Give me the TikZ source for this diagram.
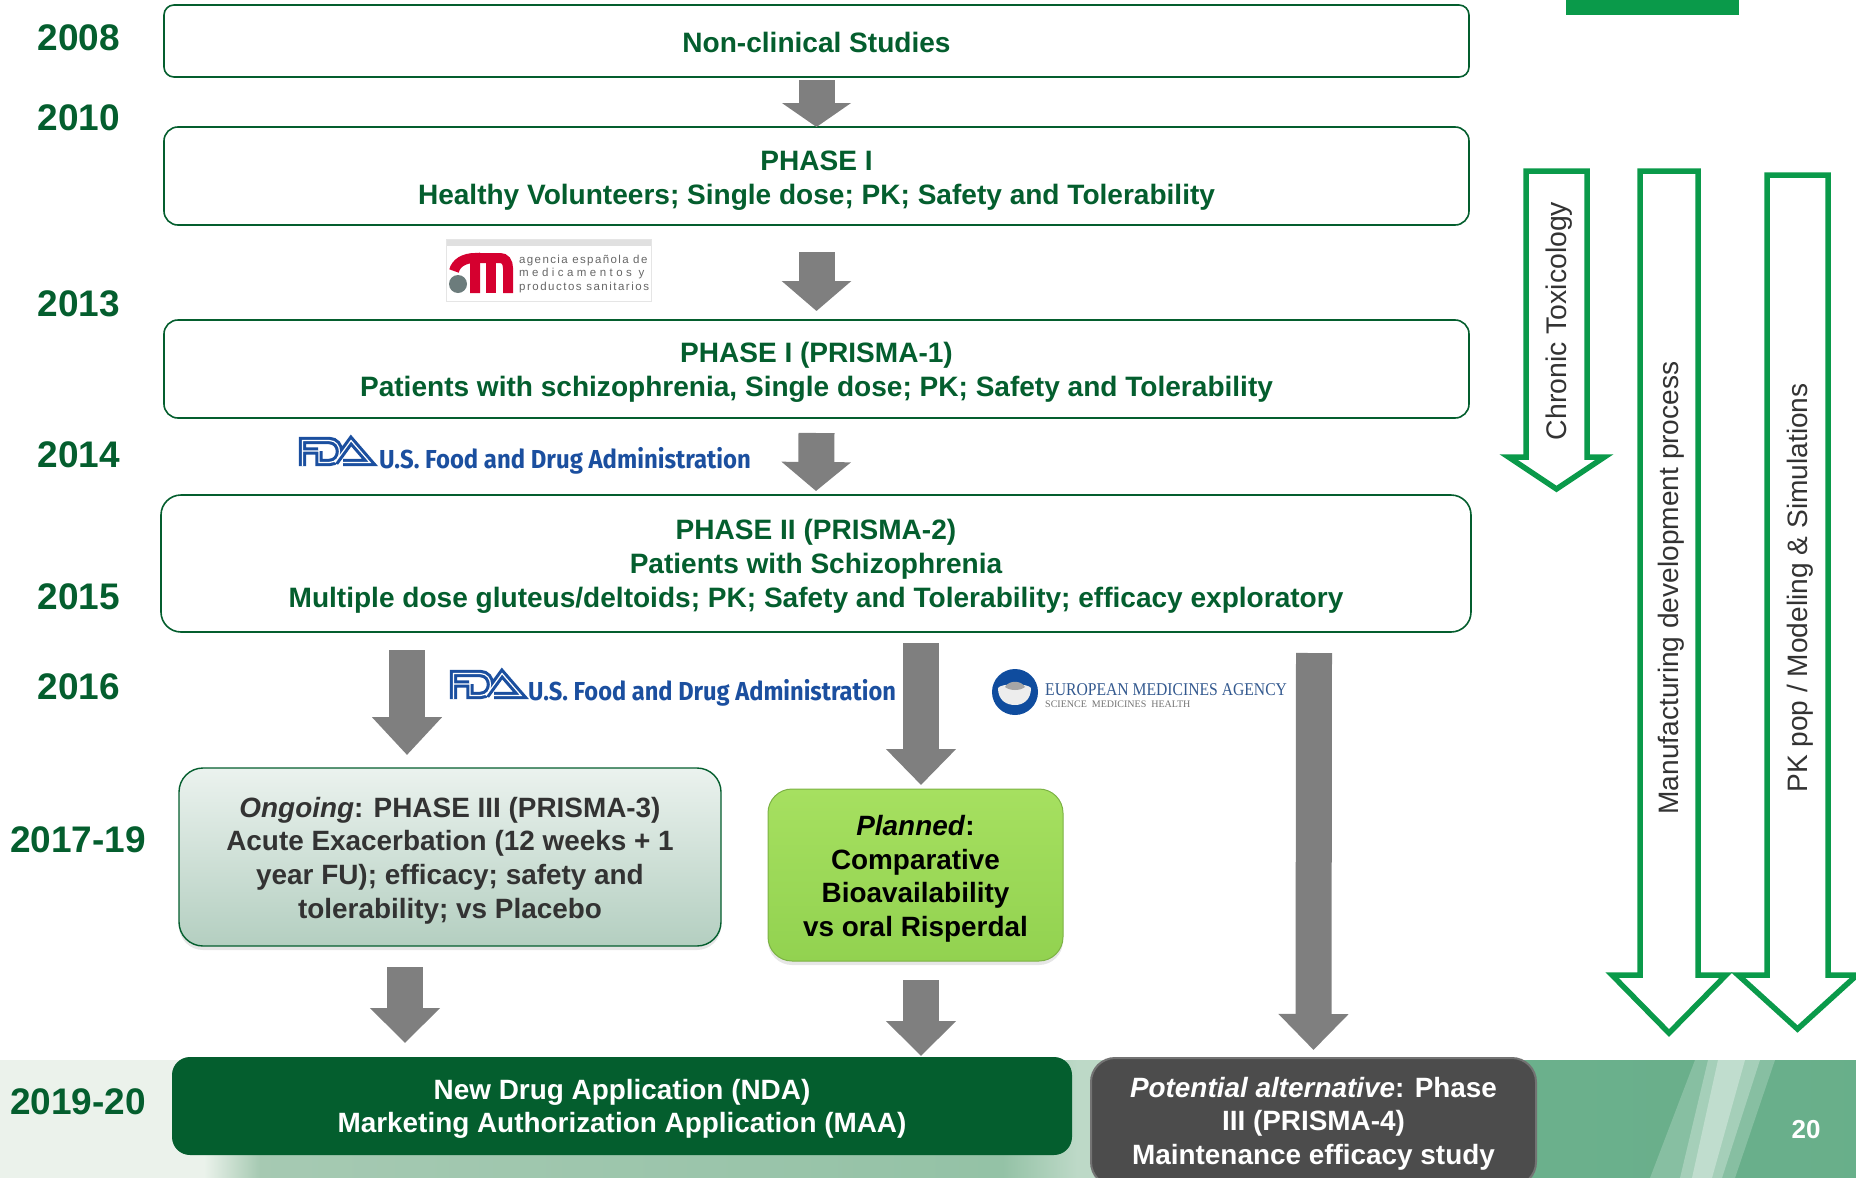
\documentclass[tikz,border=0pt]{standalone}
\usepackage{fontspec}
\setmainfont{Liberation Sans}
\newfontfamily\fdafont{Fira Sans}
\newfontfamily\emafont{Liberation Serif}
\usetikzlibrary{arrows.meta,shadows}
\definecolor{darkgreen}{HTML}{045E2E}
\definecolor{ruleblue}{HTML}{1B4F9F}
\definecolor{hollowgreen}{HTML}{0A9A4A}
\definecolor{arrowgray}{HTML}{7F7F7F}
\definecolor{limetop}{HTML}{A6E060}
\definecolor{limebottom}{HTML}{92D250}
\definecolor{amred}{HTML}{D5002F}
\definecolor{emablue}{HTML}{0F4C9E}
\definecolor{ematext}{HTML}{33598F}
\newcommand{\firstline}[1]{\rule{0pt}{#1pt}}
\pgfdeclarehorizontalshading{bandshade}{100bp}{
	rgb(0bp)=(.92,.95,.92);
	rgb(30.5bp)=(.92,.95,.92);
	rgb(32bp)=(.65,.79,.70);
	rgb(52bp)=(.58,.76,.65);
	rgb(54bp)=(.74,.85,.78);
	rgb(55.5bp)=(.74,.85,.78);
	rgb(58bp)=(.50,.72,.58);
	rgb(66bp)=(.42,.69,.55);
	rgb(100bp)=(.38,.67,.52)
}
\tikzset{fdalogo/.pic={
	\draw[ruleblue,line width=3.1pt,double=white,double distance=1.2pt,miter limit=10]
		(3.5,29) -- (3.5,3.5) -- (22,3.5)
		(3.5,14) -- (19,14)
		(20,14) -- (20,25.5) -- (30,25.5) .. controls (44,25.5) and (44,3.5) .. (30,3.5) -- (21,3.5)
		(36,25.5) -- (52,3.5) -- (71,25.5) -- (44,25.5);
}}
\begin{document}
\begin{tikzpicture}[x=1pt,y=-1pt,
	yearlabel/.style={text=darkgreen,font=\fontsize{37}{40}\selectfont\bfseries,inner sep=0pt},
	phasebox/.style={draw=darkgreen,line width=1.6pt,fill=white,rounded corners=14pt,minimum width=1305pt,
		text=darkgreen,align=center,inner sep=0pt,outer sep=0pt,font=\fontsize{28.05}{34}\selectfont\bfseries},
	outcomebox/.style={rounded corners=24pt,align=center,inner sep=0pt,outer sep=0pt,
		font=\fontsize{27.9}{33.6}\selectfont\bfseries},
	blockarrow/.style={draw=arrowgray,line width=36pt,-{Triangle[length=#1,width=68pt]}},
	hollowarrow/.style={draw=hollowgreen,line width=5.5pt,fill=white,miter limit=10},
	sidelabel/.style={rotate=90,text=black!80,inner sep=0pt,font=\fontsize{28.1}{30}\selectfont},
	fdatext/.style={text=ruleblue,inner sep=0pt,font=\fontsize{26}{30}\fdafont\bfseries}]
	\useasboundingbox (0,0) rectangle (1856,1178);
	\clip (0,0) rectangle (1856,1178);
	\shade[shading=bandshade] (0,1060) rectangle (1856,1178);
	\fill[white,opacity=.2] (1695,1060) -- (1775,1060) -- (1735,1178) -- (1650,1178) -- cycle;
	\fill[white,opacity=.25] (1708,1060) -- (1760,1060) -- (1722,1178) -- (1680,1178) -- cycle;
	\fill[white,opacity=.3] (1718,1060) -- (1745,1060) -- (1712,1178) -- (1692,1178) -- cycle;
	\fill[hollowgreen] (1566,0) rectangle (1739,15);
	\draw[hollowarrow] (1526,171) -- (1587,171) -- (1587,457) -- (1604.5,457) -- (1556.5,489) -- (1508.5,457) -- (1526,457) -- cycle;
	\draw[hollowarrow] (1640,171) -- (1698,171) -- (1698,975) -- (1726,975) -- (1669,1033) -- (1612,975) -- (1640,975) -- cycle;
	\draw[hollowarrow] (1767,175) -- (1828,175) -- (1828,975) -- (1857,975) -- (1797.5,1029) -- (1738,975) -- (1767,975) -- cycle;
	\node[sidelabel,font=\fontsize{28.4}{30}\selectfont] (chronic) at (1559,321) {Chronic Toxicology};
	\node[sidelabel] (manufacturing) at (1671,588) {Manufacturing development process};
	\node[sidelabel] (pkpop) at (1800,588) {PK pop / Modeling \& Simulations};
	\node[yearlabel] (y2008) at (79,38) {2008};
	\node[yearlabel] (y2010) at (79,118) {2010};
	\node[yearlabel] (y2013) at (79,304) {2013};
	\node[yearlabel] (y2014) at (79,455) {2014};
	\node[yearlabel] (y2015) at (79,597) {2015};
	\node[yearlabel] (y2016) at (79,687) {2016};
	\node[yearlabel] (y2017) at (78,840) {2017-19};
	\node[yearlabel] (y2019) at (78,1102) {2019-20};
	\node[phasebox,minimum height=72pt,rounded corners=10pt] (nonclinical) at (816.5,41) {\firstline{23}Non-clinical Studies};
	\node[phasebox,minimum height=98pt] (phaseone) at (816.5,176) {\firstline{28}PHASE I\\Healthy Volunteers; Single dose; PK; Safety and Tolerability};
	\node[phasebox,minimum height=98pt] (prismaone) at (816.5,369) {\firstline{27}PHASE I (PRISMA-1)\\Patients with schizophrenia, Single dose; PK; Safety and Tolerability};
	\node[phasebox,minimum height=137pt,minimum width=1310pt,rounded corners=20pt] (prismatwo) at (816,563.5) {\firstline{26}PHASE II (PRISMA-2)\\Patients with Schizophrenia\\Multiple dose gluteus/deltoids; PK; Safety and Tolerability; efficacy exploratory};
	\node[outcomebox,draw=darkgreen,line width=1.4pt,top color=darkgreen!8,bottom color=darkgreen!30,text=black!80,
		drop shadow={shadow xshift=0pt,shadow yshift=-4pt,opacity=.2},
		minimum width=542pt,minimum height=178pt] (ongoing) at (450,857) {\firstline{27}\textit{Ongoing}: PHASE III (PRISMA-3)\\Acute Exacerbation (12 weeks + 1\\year FU); efficacy; safety and\\tolerability; vs Placebo};
	\node[outcomebox,draw=limebottom!85!black,line width=1pt,top color=limetop,bottom color=limebottom,text=black,
		drop shadow={shadow xshift=0pt,shadow yshift=-4pt,opacity=.2},
		minimum width=295pt,minimum height=172pt] (planned) at (915.5,875) {\firstline{28}\textit{Planned}:\\Comparative\\Bioavailability\\vs oral Risperdal};
	\node[outcomebox,fill=darkgreen,text=white,rounded corners=18pt,minimum width=900pt,minimum height=98pt] (nda) at (622,1106) {\firstline{26}New Drug Application (NDA)\\Marketing Authorization Application (MAA)};
	\node[outcomebox,draw=black!55,line width=2pt,fill=black!70,text=white,
		drop shadow={shadow xshift=0pt,shadow yshift=-3pt,opacity=.2},
		minimum width=445pt,minimum height=128pt] (alternative) at (1313.5,1122) {\firstline{23}\textit{Potential alternative}: Phase\\III (PRISMA-4)\\Maintenance efficacy study};
	\node[text=white,inner sep=0pt,font=\fontsize{26}{28}\selectfont\bfseries] (pagenum) at (1806,1130) {20};
	\draw[blockarrow=24pt] ([yshift=-3pt]nonclinical.south) -- (phaseone.north);
	\draw[blockarrow=30pt] ([yshift=-27pt]phaseone.south) -- ([yshift=9pt]prismaone.north);
	\draw[blockarrow=29pt] ([yshift=-15pt]prismaone.south) -- ([yshift=4pt]prismatwo.north);
	\draw[blockarrow=38pt] ([xshift=-409pt,yshift=-18pt]prismatwo.south) -- ([xshift=-43pt,yshift=13pt]ongoing.north);
	\draw[blockarrow=36pt] ([xshift=105pt,yshift=-11pt]prismatwo.south) -- ([xshift=5.5pt,yshift=4pt]planned.north);
	\draw[blockarrow=36pt] ([xshift=498pt,yshift=-21pt]prismatwo.south) -- ([yshift=8pt]alternative.north);
	\draw[blockarrow=35pt] ([xshift=-45pt,yshift=-21pt]ongoing.south) -- ([xshift=-217pt,yshift=14pt]nda.north);
	\draw[blockarrow=35pt] ([xshift=5.5pt,yshift=-19pt]planned.south) -- ([xshift=299pt,yshift=1pt]nda.north);
	\fill[black!12] (446,239) rectangle (651,246);
	\draw[black!10] (446,239) rectangle (651,301);
	\draw[amred,line width=10pt] (454,271) .. controls (456,263) and (464,258) .. (475,258) -- (475,293);
	\draw[amred,line width=10pt] (475,258) -- (500,258) .. controls (505,258) and (508,262) .. (508,268) -- (508,293);
	\draw[amred,line width=10pt] (491,258) -- (491,293);
	\fill[black!20!teal!15!gray] (458,284) circle (9);
	\node[text=black!60,inner sep=0pt,align=left,anchor=west,font=\fontsize{11.5}{13.6}\selectfont] (aempstext) at (519,274)
		{\addfontfeature{LetterSpace=12}agencia española de\\\addfontfeature{LetterSpace=30}medicamentos\ y\\\addfontfeature{LetterSpace=13}productos sanitarios};
	\pic at (299,437) {fdalogo};
	\pic at (450,670) {fdalogo};
	\node[fdatext] (fdatexta) at (565,461) {\scalebox{.92}[1]{U.S. Food and Drug Administration}};
	\node[fdatext] (fdatextb) at (712,693) {\scalebox{.91}[1]{U.S. Food and Drug Administration}};
	\fill[emablue] (1015,692) circle (23);
	\fill[black!7] (998,688) .. controls (1001,683) and (1028,683) .. (1031,688) .. controls (1031,700) and (1023,705) .. (1015,705) .. controls (1006,705) and (998,700) .. (998,688) -- cycle;
	\fill[black!35] (1005,687) .. controls (1009,680) and (1021,680) .. (1025,687) .. controls (1020,691) and (1010,691) .. (1005,687) -- cycle;
	\node[text=ematext,inner sep=0pt,anchor=west,font=\fontsize{18}{20}\emafont] (emaname) at (1045,690) {\scalebox{.87}[1]{EUROPEAN MEDICINES AGENCY}};
	\node[text=black!55,inner sep=0pt,anchor=west,font=\fontsize{10}{12}\emafont] (emasub) at (1045,704) {SCIENCE\ \ MEDICINES\ \ HEALTH};
\end{tikzpicture}
\end{document}
